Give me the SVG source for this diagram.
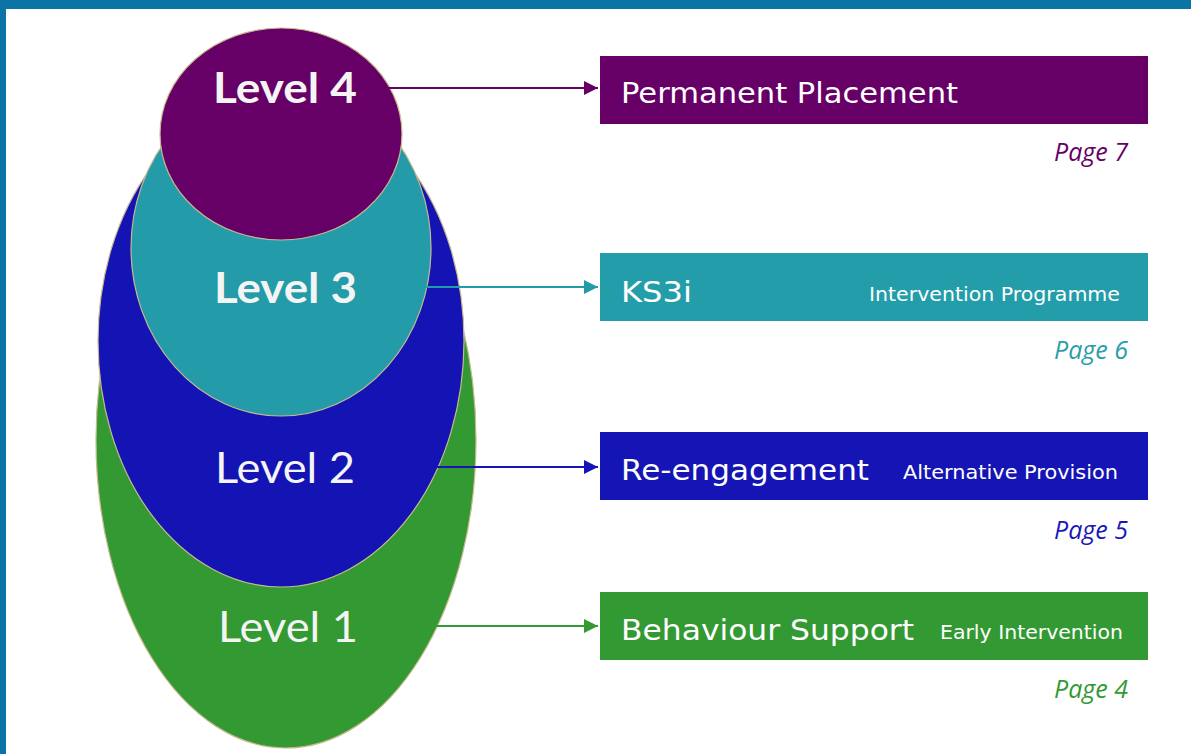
<svg xmlns="http://www.w3.org/2000/svg" width="1191" height="754" viewBox="0 0 1191 754">
<style>
.ell{stroke:#c9b98f;stroke-width:1.2}
.lvl{font-family:Lato,"Open Sans","Liberation Sans",sans-serif;fill:#f4f4f4;font-size:42px}
.box{font-family:"DejaVu Sans","Liberation Sans",sans-serif;fill:#ffffff}
.big{font-size:29px}
.small{font-size:20px}
.page{font-family:"Open Sans","Liberation Sans",sans-serif;font-style:italic;font-size:25px;text-anchor:end}
.conn{stroke-width:2;fill:none}
</style>
<defs>
<marker id="a4" viewBox="0 0 10 10" refX="10" refY="5" markerWidth="15" markerHeight="14" markerUnits="userSpaceOnUse" orient="auto"><path d="M0,0L10,5L0,10z" fill="#660066"/></marker>
<marker id="a3" viewBox="0 0 10 10" refX="10" refY="5" markerWidth="15" markerHeight="14" markerUnits="userSpaceOnUse" orient="auto"><path d="M0,0L10,5L0,10z" fill="#239ca9"/></marker>
<marker id="a2" viewBox="0 0 10 10" refX="10" refY="5" markerWidth="15" markerHeight="14" markerUnits="userSpaceOnUse" orient="auto"><path d="M0,0L10,5L0,10z" fill="#1515b5"/></marker>
<marker id="a1" viewBox="0 0 10 10" refX="10" refY="5" markerWidth="15" markerHeight="14" markerUnits="userSpaceOnUse" orient="auto"><path d="M0,0L10,5L0,10z" fill="#339933"/></marker>
</defs>
<rect x="0" y="0" width="1191" height="754" fill="#ffffff"/>
<rect x="0" y="0" width="1191" height="9" fill="#0a74a6"/>
<rect x="0" y="0" width="6" height="754" fill="#0a74a6"/>

<g id="level1">
<ellipse class="ell" cx="286" cy="440" rx="190" ry="308" fill="#339933"/>
</g>
<g id="level2">
<ellipse class="ell" cx="281" cy="341" rx="183" ry="246" fill="#1414b4"/>
</g>
<g id="level3">
<ellipse class="ell" cx="281" cy="248" rx="150" ry="168" fill="#249ba8"/>
</g>
<g id="level4">
<ellipse class="ell" cx="281" cy="134" rx="121" ry="106" fill="#660066"/>
</g>
<g id="level-labels">
<text class="lvl" x="213" y="103" font-weight="bold" textLength="144" lengthAdjust="spacingAndGlyphs" fill="#f8eef8">Level 4</text>
<text class="lvl" x="214" y="303" font-weight="bold" textLength="143" lengthAdjust="spacingAndGlyphs">Level 3</text>
<text class="lvl" x="215" y="483" textLength="140" lengthAdjust="spacingAndGlyphs">Level 2</text>
<text class="lvl" x="218" y="642" textLength="140" lengthAdjust="spacingAndGlyphs" fill="#eef6ee">Level 1</text>
</g>

<g id="connectors">
<line class="conn" x1="388" y1="88" x2="598" y2="88" stroke="#660066" marker-end="url(#a4)"/>
<line class="conn" x1="422" y1="287" x2="598" y2="287" stroke="#239ca9" marker-end="url(#a3)"/>
<line class="conn" x1="432" y1="467" x2="598" y2="467" stroke="#1515b5" marker-end="url(#a2)"/>
<line class="conn" x1="432" y1="626" x2="598" y2="626" stroke="#339933" marker-end="url(#a1)"/>
</g>

<g id="box-permanent">
<rect x="600" y="56" width="548" height="68" fill="#660066"/>
<text class="box big" x="621" y="103" textLength="337" lengthAdjust="spacingAndGlyphs">Permanent Placement</text>
<text class="page" x="1128" y="161" fill="#660066">Page 7</text>
</g>
<g id="box-ks3i">
<rect x="600" y="253" width="548" height="68" fill="#239da9"/>
<text class="box big" x="621" y="302" textLength="71" lengthAdjust="spacingAndGlyphs">KS3i</text>
<text class="box small" x="869" y="301" textLength="251" lengthAdjust="spacingAndGlyphs">Intervention Programme</text>
<text class="page" x="1128" y="359" fill="#2a9eaa">Page 6</text>
</g>
<g id="box-reengagement">
<rect x="600" y="432" width="548" height="68" fill="#1515b5"/>
<text class="box big" x="621" y="480" textLength="248" lengthAdjust="spacingAndGlyphs">Re-engagement</text>
<text class="box small" x="903" y="479" textLength="215" lengthAdjust="spacingAndGlyphs">Alternative Provision</text>
<text class="page" x="1128" y="539" fill="#1a1ab8">Page 5</text>
</g>
<g id="box-behaviour">
<rect x="600" y="592" width="548" height="68" fill="#339933"/>
<text class="box big" x="621" y="640" textLength="293" lengthAdjust="spacingAndGlyphs">Behaviour Support</text>
<text class="box small" x="940" y="639" textLength="183" lengthAdjust="spacingAndGlyphs">Early Intervention</text>
<text class="page" x="1128" y="698" fill="#339933">Page 4</text>
</g>
</svg>
